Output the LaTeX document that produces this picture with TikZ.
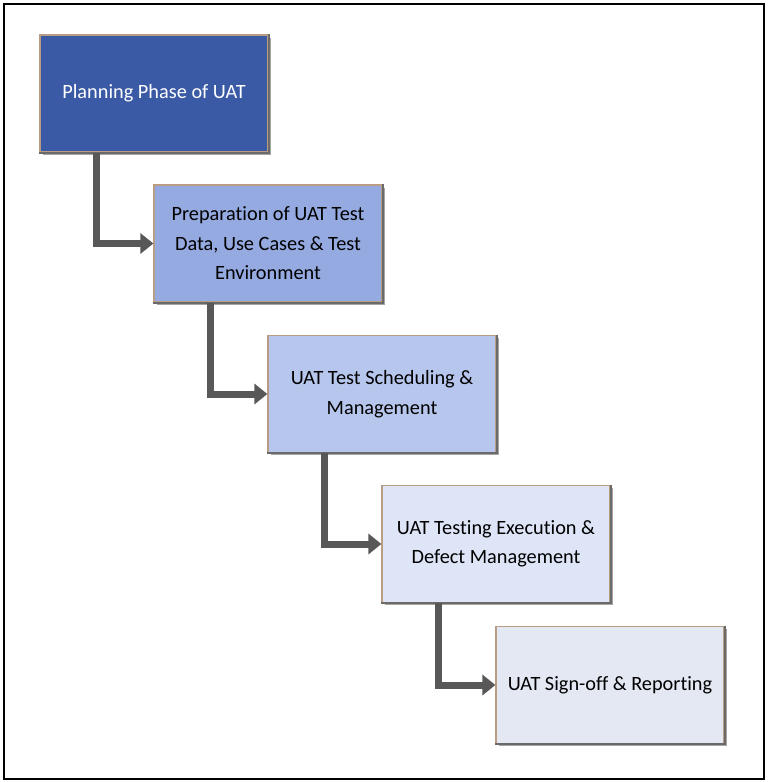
\documentclass[tikz,border=0pt]{standalone}
\usepackage{fontspec}
\setmainfont[Ligatures=NoCommon]{Carlito}
\usetikzlibrary{arrows.meta,shadows}
\definecolor{c1}{HTML}{3A5AA6}
\definecolor{c2}{HTML}{95AAE1}
\definecolor{c3}{HTML}{B6C6EC}
\definecolor{c4}{HTML}{DDE5F7}
\definecolor{c5}{HTML}{E3E8F3}
\definecolor{tan}{HTML}{B89C84}
\definecolor{edgegray}{HTML}{6A6A6A}
\definecolor{arrowgray}{HTML}{585858}
\tikzset{
  stepbox/.style={rectangle, draw=tan, line width=1.2pt, minimum width=228pt, minimum height=117pt,
    align=center, inner sep=0pt, font=\fontsize{20.3}{29.5}\selectfont,
    drop shadow={shadow xshift=2.5pt, shadow yshift=-2.5pt, opacity=0.35, fill=black}},
  darkedge/.style={draw=edgegray, line width=2pt},
  flow/.style={draw=arrowgray, line width=7pt, -{Triangle[length=13pt,width=20pt]}}
}
\begin{document}
\begin{tikzpicture}[x=1pt,y=-1pt]
\useasboundingbox (0,0) rectangle (768,782);
\draw[line width=2.5pt] (4,4) rectangle (764,779);
\node[stepbox, fill=c1, text=white] (b1) at (154,93.5) {Planning Phase of UAT};
\node[stepbox, fill=c2] (b2) at (268,243.5) {Preparation of UAT Test\\Data, Use Cases \& Test\\Environment};
\node[stepbox, fill=c3] (b3) at (382,394) {UAT Test Scheduling \&\\Management};
\node[stepbox, fill=c4] (b4) at (496,544) {UAT Testing Execution \&\\Defect Management};
\node[stepbox, fill=c5] (b5) at (610,685) {UAT Sign-off \& Reporting};
\foreach \b in {b1,b2,b3,b4,b5}{
  \draw[darkedge] (\b.north east) -- (\b.south east) -- (\b.south west);
}
\draw[flow] ([xshift=57pt]b1.south west) |- (b2.west);
\draw[flow] ([xshift=57pt]b2.south west) |- (b3.west);
\draw[flow] ([xshift=57pt]b3.south west) |- (b4.west);
\draw[flow] ([xshift=57pt]b4.south west) |- (b5.west);
\end{tikzpicture}
\end{document}
